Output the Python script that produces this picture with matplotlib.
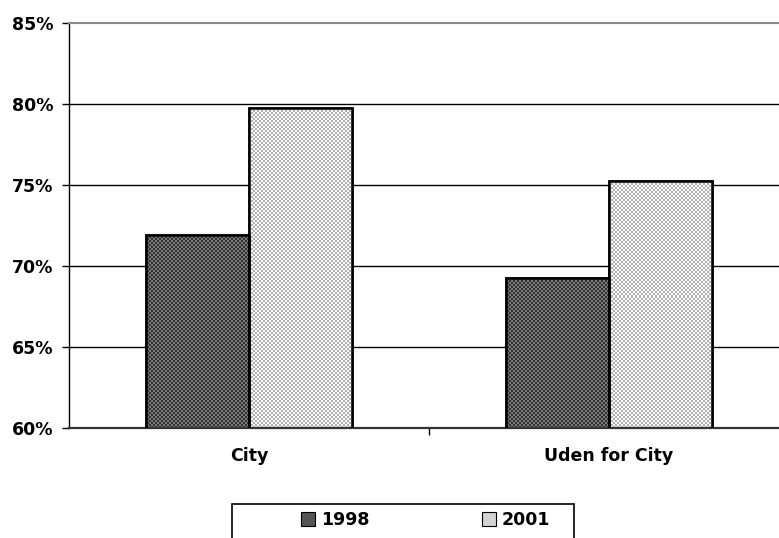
import numpy as np
import matplotlib.pyplot as plt
from matplotlib.patches import Rectangle
from matplotlib.ticker import FuncFormatter
from matplotlib.transforms import IdentityTransform

categories = ["City", "Uden for City"]
years = ["1998", "2001"]
share_1998 = [71.9, 69.25]
share_2001 = [79.75, 75.25]
y_ticks = [60, 65, 70, 75, 80, 85]

W, H = 779, 538
L, B, R, T = 69, 110, 789, 515  # axes box in pixels
fig = plt.figure(figsize=(W / 100, H / 100), dpi=100)
ax = fig.add_axes([L / W, B / H, (R - L) / W, (T - B) / H])

# dithered fills, two grey levels in a small checkerboard
def checker(c1, c2, nx=R - L, ny=T - B, cell=2):
    yy, xx = np.mgrid[0:ny, 0:nx]
    mask = ((xx // cell + yy // cell) % 2).astype(bool)
    img = np.empty((ny, nx, 3))
    img[mask] = np.array(c1) / 255
    img[~mask] = np.array(c2) / 255
    return img

tex_dark = checker((50, 50, 50), (120, 120, 120))
tex_light = checker((250, 250, 250), (175, 175, 175))

for y in y_ticks[1:-1]:
    ax.axhline(y, color="black", lw=1, zorder=1)

w = 0.285
x = np.arange(len(categories)) + 0.5
bars_a = ax.bar(x - w / 2, share_1998, w, color="#555555", edgecolor="black",
                lw=1.8, zorder=2, label=years[0])
bars_b = ax.bar(x + w / 2, share_2001, w, color="#d2d2d2", edgecolor="black",
                lw=1.8, zorder=2, label=years[1])

for bars, tex in ((bars_a, tex_dark), (bars_b, tex_light)):
    for b in bars:
        im = ax.imshow(tex, extent=(L, R, B, T), origin="lower", aspect="auto",
                       interpolation="nearest", transform=IdentityTransform(),
                       zorder=2.5)
        im.set_clip_path(b)
        # outline over the texture
        ax.add_patch(Rectangle(b.get_xy(), b.get_width(), b.get_height(),
                               fill=False, edgecolor="black", lw=1.8, zorder=3))

ax.set_xlim(0, 2)
ax.set_ylim(60, 85)

ax.spines["right"].set_visible(False)
ax.spines["top"].set_color("#8a8a8a")
ax.spines["top"].set_linewidth(1.5)
ax.spines["left"].set_linewidth(1)
ax.spines["bottom"].set_color("#333333")
ax.spines["bottom"].set_linewidth(1.6)

ax.set_yticks(y_ticks)
ax.yaxis.set_major_formatter(FuncFormatter(lambda v, p: "%d%%" % v))
ax.tick_params(axis="y", length=5, width=1, labelsize=12.5, pad=6)
for t in ax.get_yticklabels():
    t.set_fontweight("bold")

ax.set_xticks([1])
ax.set_xticklabels([""])
ax.tick_params(axis="x", length=5, width=1)
for xi, name in zip(x, categories):
    ax.text(xi, 58.8, name, ha="center", va="top", fontsize=12.5,
            fontweight="bold", clip_on=False)

# legend box along the bottom edge
fig.add_artist(Rectangle((232 / W, -0.05), 342 / W, 0.05 + 1 - 504 / H,
                         transform=fig.transFigure, fill=False,
                         edgecolor="black", lw=1.2))
leg = fig.legend(handles=[bars_a, bars_b], labels=years, loc="center left",
                 bbox_to_anchor=(292 / W, 1 - 520 / H), ncol=2, frameon=False,
                 borderpad=0, handlelength=0.8, handleheight=0.8,
                 handletextpad=0.35, columnspacing=6.5,
                 prop={"size": 12.5, "weight": "bold"})
for h in leg.legend_handles:
    h.set_edgecolor("black")
    h.set_linewidth(0.8)

fig.savefig("out.png", dpi=100)
